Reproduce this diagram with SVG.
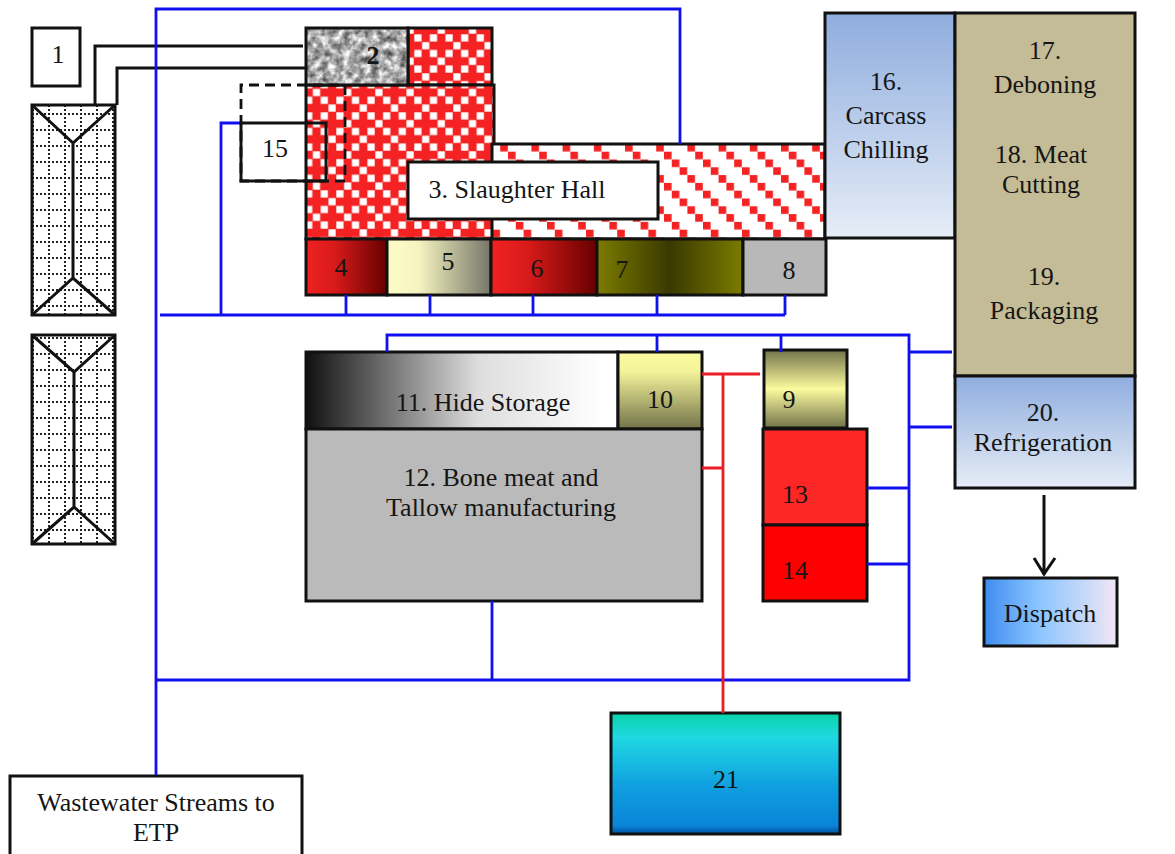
<svg xmlns="http://www.w3.org/2000/svg" width="1175" height="854" viewBox="0 0 1175 854">
<style>
.b{stroke:#111;stroke-width:3;fill:none}
.blue{stroke:#1010ee;stroke-width:2.8;fill:none}
.red{stroke:#ee1c25;stroke-width:2.8;fill:none}
.k{stroke:#111;stroke-width:3;fill:none}
text{font-family:"Liberation Serif","Times New Roman",serif;font-size:26px;fill:#151515;text-anchor:middle}
</style>
<defs>
<pattern id="check" patternUnits="userSpaceOnUse" width="31.2" height="31.2" patternTransform="translate(414 34)">
<rect width="31.2" height="31.2" fill="#f42222"/>
<g fill="#fff"><rect x=".3" y=".3" width="7.2" height="7.2"/><rect x="15.9" y=".3" width="7.2" height="7.2"/><rect x="8.1" y="8.1" width="7.2" height="7.2"/><rect x=".3" y="15.9" width="7.2" height="7.2"/><rect x="15.9" y="15.9" width="7.2" height="7.2"/><rect x="23.7" y="23.7" width="7.2" height="7.2"/></g>
</pattern>
<pattern id="diag" patternUnits="userSpaceOnUse" width="31.2" height="31.2" patternTransform="translate(664 151.7)">
<rect width="31.2" height="31.2" fill="#fff"/>
<g fill="#f42222"><rect width="7.6" height="7.6"/><rect x="7.8" y="7.8" width="7.6" height="7.6"/><rect x="15.6" y="15.6" width="7.6" height="7.6"/><rect x="23.4" y="23.4" width="7.6" height="7.6"/></g>
</pattern>
<pattern id="dots" patternUnits="userSpaceOnUse" width="16" height="16" patternTransform="translate(48 113)">
<rect width="16" height="16" fill="#fff"/>
<path d="M0 1H16M1 0V16" stroke="#222" stroke-width="2" stroke-dasharray="2 2"/>
</pattern>
<filter id="stone" x="0" y="0" width="1" height="1" color-interpolation-filters="sRGB">
<feTurbulence type="fractalNoise" baseFrequency="0.14" numOctaves="3" seed="5"/>
<feColorMatrix type="matrix" values="1.1 0 0 0 0.12  1.1 0 0 0 0.12  1.1 0 0 0 0.12  0 0 0 0 1"/>
</filter>
<linearGradient id="g4"><stop offset="0" stop-color="#f02222"/><stop offset=".35" stop-color="#d81a1a"/><stop offset="1" stop-color="#660000"/></linearGradient>
<linearGradient id="g5"><stop offset="0" stop-color="#fdfbc6"/><stop offset=".3" stop-color="#f6f4c0"/><stop offset="1" stop-color="#76766a"/></linearGradient>
<linearGradient id="g7"><stop offset="0" stop-color="#7c7c00"/><stop offset=".5" stop-color="#393900"/><stop offset="1" stop-color="#7c7c00"/></linearGradient>
<linearGradient id="g10" x2="0" y2="1"><stop offset="0" stop-color="#fbfb9f"/><stop offset=".25" stop-color="#f3f39a"/><stop offset="1" stop-color="#73734a"/></linearGradient>
<linearGradient id="g9" x2="0" y2="1"><stop offset="0" stop-color="#73734a"/><stop offset=".5" stop-color="#fbfb9f"/><stop offset="1" stop-color="#73734a"/></linearGradient>
<linearGradient id="g11"><stop offset="0" stop-color="#111"/><stop offset=".55" stop-color="#ddd"/><stop offset=".95" stop-color="#fff"/></linearGradient>
<linearGradient id="g16" x2="0" y2="1"><stop offset="0" stop-color="#8fadde"/><stop offset="1" stop-color="#e6edf7"/></linearGradient>
<linearGradient id="g21" x2="0" y2="1"><stop offset="0" stop-color="#0ad4a8"/><stop offset=".2" stop-color="#20d8e2"/><stop offset=".6" stop-color="#10a0e0"/><stop offset=".93" stop-color="#0a84d8"/><stop offset="1" stop-color="#0050a0"/></linearGradient>
<linearGradient id="gd"><stop offset="0" stop-color="#3f8cf0"/><stop offset=".42" stop-color="#8cc6ff"/><stop offset="1" stop-color="#f2e6f4"/></linearGradient>
</defs>
<rect width="1175" height="854" fill="#fff"/>
<g id="roof-a"><rect x="32" y="105" width="83" height="210" style="fill:url(#dots)" class="b"/><path class="k" d="M32 105L73 143L115 105M73 143V278M32 315L73 278L115 315"/></g>
<g id="roof-b"><rect x="32" y="335" width="83" height="209" style="fill:url(#dots)" class="b"/><path class="k" d="M32 335L74 372L115 335M74 372V507M32 544L74 507L115 544"/></g>
<g id="node-1"><rect class="b" style="fill:#fff" x="32" y="28" width="48" height="58"/><text x="58" y="63">1</text></g>
<g id="node-3">
<rect x="408" y="28" width="84" height="57" style="fill:url(#check)" class="b"/>
<rect x="306" y="85" width="188" height="154" style="fill:url(#check)" class="b"/>
<rect x="492" y="144" width="333" height="95" style="fill:url(#diag)" class="b"/>
<rect x="408" y="162" width="250" height="57" style="fill:#fff" class="b"/>
<text x="517" y="198">3. Slaughter Hall</text>
</g>
<g id="node-2"><rect x="306" y="28" width="102" height="57" fill="#aaa" filter="url(#stone)"/><rect x="306" y="28" width="102" height="57" class="b"/><text x="373" y="64" style="font-weight:bold">2</text></g>
<g id="node-4"><rect x="306" y="239" width="81" height="56" style="fill:url(#g4)" class="b"/><text x="341" y="276">4</text></g>
<g id="node-5"><rect x="387" y="239" width="104" height="56" style="fill:url(#g5)" class="b"/><text x="448" y="270">5</text></g>
<g id="node-6"><rect x="491" y="239" width="106" height="56" style="fill:url(#g4)" class="b"/><text x="537" y="277">6</text></g>
<g id="node-7"><rect x="597" y="239" width="146" height="56" style="fill:url(#g7)" class="b"/><text x="622" y="278">7</text></g>
<g id="node-8"><rect x="743" y="239" width="83" height="56" style="fill:#b8b8b8" class="b"/><text x="789" y="279">8</text></g>
<g id="node-11"><rect x="306" y="352" width="312" height="77" style="fill:url(#g11)" class="b"/><text x="483" y="411">11. Hide Storage</text></g>
<g id="node-10"><rect x="618" y="352" width="84" height="77" style="fill:url(#g10)" class="b"/><text x="660" y="408">10</text></g>
<g id="node-12"><rect x="306" y="429" width="396" height="172" style="fill:#bababa" class="b"/><text x="501" y="486">12. Bone meat and</text><text x="501" y="516">Tallow manufacturing</text></g>
<g id="node-9"><rect x="764" y="350" width="83" height="78" style="fill:url(#g9)" class="b"/><text x="789" y="408">9</text></g>
<g id="node-13"><rect x="763" y="429" width="104" height="96" style="fill:#ff2626" class="b"/><text x="795" y="503">13</text></g>
<g id="node-14"><rect x="763" y="525" width="104" height="76" style="fill:#ff0000" class="b"/><text x="795" y="579">14</text></g>
<g id="node-16"><rect x="825" y="13" width="130" height="225" style="fill:url(#g16)" class="b"/><text x="886" y="90">16.</text><text x="886" y="124">Carcass</text><text x="886" y="158">Chilling</text></g>
<g id="node-17-19"><rect x="955" y="13" width="180" height="363" style="fill:#c4bc96" class="b"/>
<text x="1045" y="59">17.</text><text x="1045" y="93">Deboning</text>
<text x="1041" y="163">18. Meat</text><text x="1041" y="193">Cutting</text>
<text x="1044" y="285">19.</text><text x="1044" y="319">Packaging</text></g>
<g id="node-20"><rect x="955" y="376" width="180" height="112" style="fill:url(#g16)" class="b"/><text x="1043" y="421">20.</text><text x="1043" y="451">Refrigeration</text></g>
<g id="node-dispatch"><rect x="984" y="578" width="133" height="68" style="fill:url(#gd)" class="b"/><text x="1050" y="622">Dispatch</text></g>
<g id="node-21"><rect x="611" y="713" width="229" height="121" style="fill:url(#g21)" class="b"/><text x="726" y="788">21</text></g>
<g id="node-etp"><rect x="10" y="776" width="292" height="90" style="fill:#fff" class="b"/><text x="156" y="811">Wastewater Streams to</text><text x="156" y="841">ETP</text></g>
<g id="connectors">
<path class="k" d="M95 105V46H303M117 105V68H306"/>
<path class="blue" d="M156 775V9H680V144M160 315H785M221 315V123H241M346 295V315M430 295V315M533 295V315M657 295V315M785 295V315"/>
<path class="blue" d="M387 352V335H909V680H156M657 335V352M781 335V352M909 352H952M909 427H952M867 488H909M867 564H909M492 601V680"/>
<path class="red" d="M702 374H760M723 374V713M702 468H723"/>
<path class="k" d="M1044 495V575M1034 558L1044 574L1055 558"/>
</g>
<g id="node-15"><rect x="241" y="123" width="85" height="58" class="b"/><path d="M345 181H241V85H345V181" fill="none" stroke="#111" stroke-width="2.8" stroke-dasharray="10 6"/><text x="275" y="157">15</text></g>
</svg>
